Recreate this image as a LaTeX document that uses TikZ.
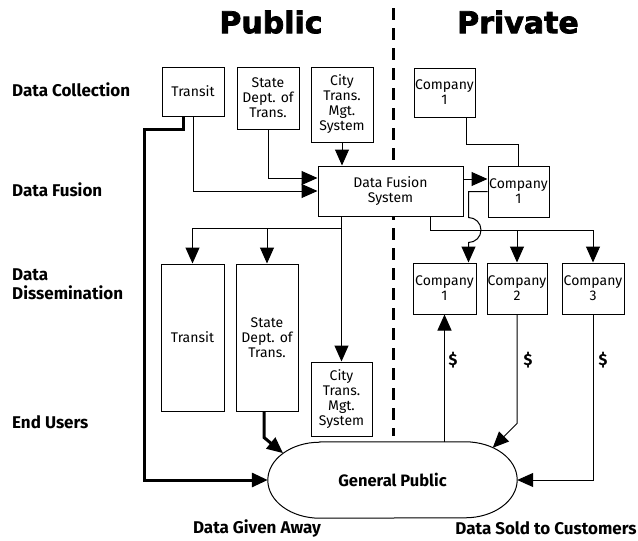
\documentclass[tikz,border=0pt]{standalone}
\usepackage{fontspec}
\setmainfont{Fira Sans}
\newfontfamily\heavyfont[BoldFeatures={FakeBold=2.5}]{DejaVu Sans}
\usepackage{tikz}
\usetikzlibrary{calc,arrows.meta}

\begin{document}
\begin{tikzpicture}[x=1pt, y=-1pt,
    box/.style={draw=black, fill=white, line width=1pt, inner sep=0pt, align=center, font=\fontsize{14}{15}\selectfont},
    rowlabel/.style={anchor=west, align=left, inner sep=0pt, font=\bfseries\fontsize{17}{19}\selectfont},
    title/.style={font=\heavyfont\bfseries\fontsize{30}{32}\selectfont},
    money/.style={font=\bfseries\fontsize{16}{17}\selectfont},
    wire/.style={line width=1pt},
    arr/.style={line width=1pt, -{Triangle[length=16pt,width=14pt]}},
    thickarr/.style={line width=3pt, -{Triangle[length=16pt,width=14pt]}}
]
    \useasboundingbox (0,0) rectangle (638,541);

    % headings
    \node[title] (pub) at (271,22) {Public};

    \node[title] (priv) at (518,22) {Private};

    \coordinate (divtop) at (393,8);
    \coordinate (divbot) at (393,436);
    \draw[line width=3pt, dash pattern=on 12pt off 8pt] (divtop) -- (divbot);

    % stages
    \node[rowlabel] (lcol) at (12,90) {Data Collection};

    \node[rowlabel] (lfus) at (12,190) {Data Fusion};

    \node[rowlabel] (ldis) at (12,284) {Data\\Dissemination};

    \node[rowlabel] (lend) at (12,422) {End Users};

    % data collection
    \node[box, minimum width=62, minimum height=49] (ctransit) at (193,91.5) {Transit};

    \node[box, minimum width=62, minimum height=62] (cstate) at (268,98) {State\\Dept. of\\Trans.};

    \node[box, minimum width=62, minimum height=75] (ccity) at (342,104.5) {City\\Trans.\\Mgt.\\System};

    \node[box, minimum width=61, minimum height=49] (ccomp) at (444.5,92.5) {Company\\1};

    % data fusion
    \node[box, minimum width=145, minimum height=50] (fusion) at (390.5,191) {Data Fusion\\System};

    \node[box, minimum width=61, minimum height=51] (fcomp) at (518.5,191.5) {Company\\1};

    % data dissemination
    \node[box, minimum width=63, minimum height=147] (dtransit) at (192.5,337.5) {Transit};

    \node[box, minimum width=62, minimum height=147] (dstate) at (267,337.5) {State\\Dept. of\\Trans.};

    \node[box, minimum width=61, minimum height=74] (ecity) at (341.5,399) {City\\Trans.\\Mgt.\\System};

    \node[box, minimum width=63, minimum height=51] (dcomp1) at (444.5,288.5) {Company\\1};

    \node[box, minimum width=60, minimum height=51] (dcomp2) at (517,288.5) {Company\\2};

    \node[box, minimum width=62, minimum height=51] (dcomp3) at (593,288.5) {Company\\3};

    % end users
    \node[minimum width=249, minimum height=76, inner sep=0pt, font=\bfseries\fontsize{16.5}{18}\selectfont] (public) at (392.5,480) {General Public};
    \draw[wire] ($(public.north west)+(52,0)$) -- ($(public.north east)+(-52,0)$)
        arc[start angle=90, end angle=-90, x radius=52pt, y radius=38pt]
        -- ($(public.south west)+(52,0)$)
        arc[start angle=270, end angle=90, x radius=52pt, y radius=38pt] -- cycle;

    \node[rowlabel, anchor=center] (given) at (257,528) {Data Given Away};

    \node[rowlabel, anchor=center] (sold) at (546,528) {Data Sold to Customers};

    % collection -> fusion
    \draw[thickarr] ([xshift=-10]ctransit.south) -- ++(0,13) -| ($(public.west)+(-123,0)$) -- (public.west);
    \draw[arr] (ctransit.south) |- (fusion.west);
    \draw[arr] (cstate.south) |- ($(fusion.west)+(0,-13)$);
    \draw[arr] (ccity.south) -- (fusion.north -| ccity.south);
    \draw[wire] ([xshift=22]ccomp.south) -- ++(0,27) -| (fcomp.north);
    \draw[arr] ($(fusion.east)+(0,-12)$) coordinate (f1) -- (f1 -| fcomp.west);

    % fusion -> dissemination
    \draw[arr] (fusion.south -| ecity.north) -- ++(0,12) coordinate (t0) -- (ecity.north);
    \draw[arr] (t0) -| (dtransit.north);
    \draw[arr] (t0 -| dstate.north) -- (dstate.north);
    \draw[arr] ([xshift=40]fusion.south) -- ++(0,14) coordinate (b0) -| (dcomp3.north);
    \draw[arr] (b0 -| dcomp2.north) -- (dcomp2.north);
    \draw[arr] (fcomp.west) -- ++(-19,0) coordinate (h0) -- ++(0,26)
        arc[start angle=90, end angle=-90, radius=12.5pt] -- (h0 |- dcomp1.north);

    % dissemination -> end users
    \draw[thickarr] ([xshift=-3]dstate.south) -- ++(0,26) -- ($(public.west)+(52,0)+(135:52pt and 38pt)$);
    \draw[arr] (public.north -| dcomp1.south) -- (dcomp1.south);
    \draw[arr] (dcomp2.south) -- ++(0,109) -- ($(public.east)+(-52,0)+(58:52pt and 38pt)$);
    \draw[arr] (dcomp3.south) |- (public.east);

    \node[money] (pay1) at (453,360) {\$};

    \node[money] (pay2) at (528,360) {\$};

    \node[money] (pay3) at (603,360) {\$};
\end{tikzpicture}
\end{document}
